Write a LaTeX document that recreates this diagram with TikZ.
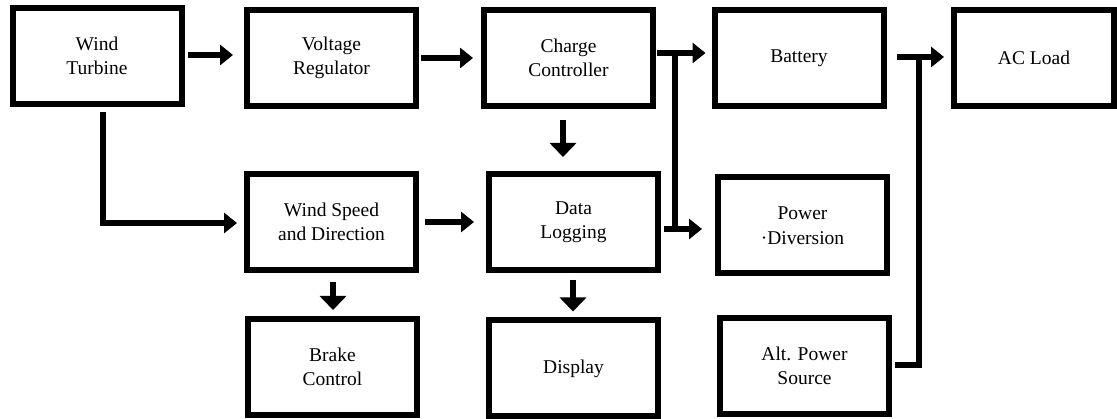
\documentclass[tikz,border=0pt]{standalone}
\usepackage{fontspec}
\setmainfont{Liberation Serif}
\newfontfamily\lser{Liberation Serif}
\usetikzlibrary{arrows.meta}
\begin{document}
\begin{tikzpicture}[x=1pt,y=-1pt,
  blk/.style={draw=black,line width=6pt,fill=white,minimum width=169pt,minimum height=96pt,
    align=center,inner sep=0pt,font=\lser\fontsize{19.5}{24.5}\selectfont},
  arr/.style={line width=6pt,-{Triangle[length=13pt,width=20pt]}},
  darr/.style={line width=5.5pt,-{Triangle[length=14pt,width=26pt]}},
  ln/.style={line width=6pt}]
\useasboundingbox (0,0) rectangle (1117,419);
\fill[white] (0,0) rectangle (1117,419);
% top row
\node[blk] (wt)  at (97,56)    {Wind\\Turbine};
\node[blk] (vr)  at (331.5,58) {Voltage\\Regulator};
\node[blk] (cc)  at (568.5,58) {Charge\\Controller};
\node[blk] (bat) at (799,58)   {Battery};
\node[blk,minimum width=160pt] (ac) at (1034,58) {AC Load};
% middle row
\node[blk] (wsd) at (331.5,222) {Wind Speed\\and Direction};
\node[blk] (dl)  at (573.5,222) {Data\\Logging};
\node[blk] (pd)  at (802.5,225.5) {Power\\·Diversion};
% bottom row
\node[blk] (bc)   at (332.5,367) {Brake\\Control};
\node[blk] (disp) at (573.5,368.5) {Display};
\node[blk] (alt)  at (804.5,366) {Alt. Power\\Source};
% connectors
\draw[arr] ([xshift=3pt,yshift=1pt]wt.east) -- ([xshift=-11pt,yshift=3pt]vr.west);
\draw[arr] ([xshift=2pt]vr.east) -- ([xshift=-8pt]cc.west);
\draw[arr] ([xshift=1pt,yshift=5pt]cc.east) -- ([xshift=-6pt,yshift=5pt]bat.west);
\coordinate (j1) at ([xshift=19pt,yshift=5pt]cc.east);
\coordinate (dls) at ([xshift=3pt,yshift=-7pt]dl.east);
\draw[arr] (dls) -- ([xshift=-13pt,yshift=-3.5pt]pd.west);
\draw[ln] (j1) -- (j1 |- dls);
\draw[darr] ([xshift=-5.5pt,yshift=-11pt]cc.south) -- ([xshift=-10.5pt,yshift=14pt]dl.north);
\draw[arr] ([xshift=6pt,yshift=-5pt]wt.south) |- ([xshift=-7pt,yshift=-1pt]wsd.west);
\draw[arr] ([xshift=6pt]wsd.east) -- ([xshift=-12pt]dl.west);
\draw[darr] ([xshift=1.5pt,yshift=-9pt]wsd.south) -- ([xshift=0.5pt,yshift=6pt]bc.north);
\draw[darr] ([xshift=-0.5pt,yshift=-7pt]dl.south) -- ([xshift=-0.5pt,yshift=6pt]disp.north);
\draw[arr] ([xshift=10pt,yshift=1pt]bat.east) -- ([xshift=-7pt,yshift=1pt]ac.west);
\coordinate (j3) at ([xshift=-32pt,yshift=1pt]ac.west);
\draw[ln] ([xshift=3pt,yshift=1pt]alt.east) -| (j3);
\end{tikzpicture}
\end{document}
